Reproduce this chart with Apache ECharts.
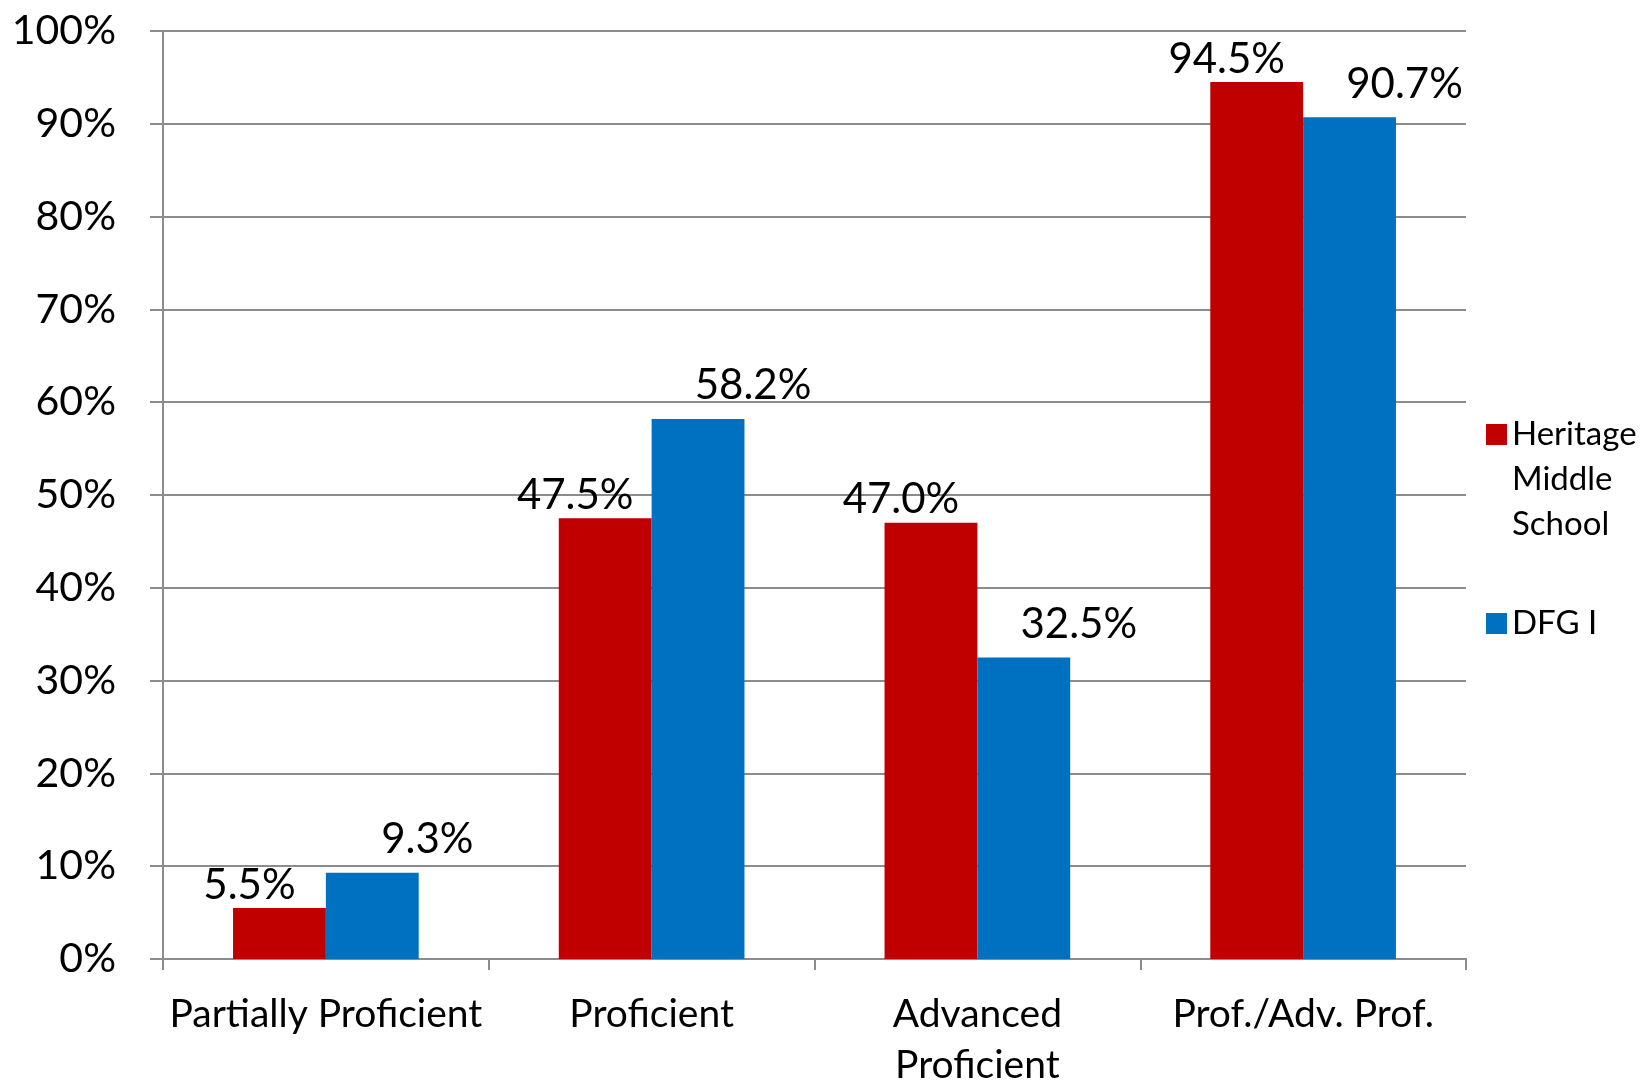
<!DOCTYPE html>
<html>
<head>
<meta charset="utf-8">
<script src="https://cdn.jsdelivr.net/npm/echarts@6/dist/echarts.min.js"></script>
<style>
  html, body { margin: 0; padding: 0; background: #fff; }
  #chart { width: 1650px; height: 1083px; }
</style>
</head>
<body>
<div id="chart"></div>
<script>
const categories = ['Partially Proficient', 'Proficient', 'Advanced Proficient', 'Prof./Adv. Prof.']
const heritage = [5.5, 47.5, 47.0, 94.5]
const dfg = [9.3, 58.2, 32.5, 90.7]
const seriesNames = ['Heritage Middle School', 'DFG I']

const font = 'Lato, "Open Sans", sans-serif'
const gridColor = '#8c8c8c'

const chart = echarts.init(document.getElementById('chart'))

// legend text sits to the right of the square, first line level with it
const legendText = { fontFamily: font, fontSize: 33, color: '#000', lineHeight: 45 }

const option = {
  backgroundColor: '#fff',
  textStyle: { fontFamily: font },
  grid: { left: 163, right: 184, top: 31, bottom: 124, outerBoundsMode: 'none' },
  legend: [
    {
      data: [seriesNames[0]],
      orient: 'vertical',
      left: 1486,
      top: 322,
      padding: 0,
      icon: 'rect',
      itemWidth: 21,
      itemHeight: 21,
      // two empty lines on top so that the first word is centred on the square
      formatter: name => '\n\n' + name.split(' ').join('\n'),
      textStyle: legendText
    },
    {
      data: [seriesNames[1]],
      orient: 'vertical',
      left: 1486,
      top: 601,
      padding: 0,
      icon: 'rect',
      itemWidth: 21,
      itemHeight: 21,
      textStyle: legendText
    }
  ],
  xAxis: {
    type: 'category',
    data: categories,
    axisLine: { lineStyle: { color: gridColor, width: 2 } },
    axisTick: { show: true, length: 11, lineStyle: { color: gridColor, width: 2 } },
    axisLabel: {
      color: '#000',
      fontSize: 39,
      margin: 30,
      lineHeight: 51,
      interval: 0,
      formatter: v => v === 'Advanced Proficient' ? 'Advanced\nProficient' : v
    }
  },
  yAxis: {
    type: 'value',
    min: 0,
    max: 100,
    interval: 10,
    axisLine: { show: true, lineStyle: { color: gridColor, width: 2 } },
    axisTick: { show: true, length: 13, lineStyle: { color: gridColor, width: 2 } },
    splitLine: { lineStyle: { color: gridColor, width: 2 } },
    axisLabel: { color: '#000', fontSize: 41, margin: 47, formatter: '{value}%' }
  },
  series: [
    {
      name: seriesNames[0],
      type: 'bar',
      data: heritage,
      barGap: '0%',
      barCategoryGap: '43%',
      itemStyle: { color: '#C00000' },
      label: {
        show: true,
        position: 'top',
        distance: 2,
        offset: [-30, 0],
        color: '#000',
        fontSize: 42,
        fontFamily: font,
        formatter: p => p.value.toFixed(1) + '%'
      }
    },
    {
      name: seriesNames[1],
      type: 'bar',
      data: dfg,
      barGap: '0%',
      barCategoryGap: '43%',
      itemStyle: { color: '#0070C0' },
      label: {
        show: true,
        position: 'top',
        distance: 12,
        offset: [55, 0],
        color: '#000',
        fontSize: 42,
        fontFamily: font,
        formatter: p => p.value.toFixed(1) + '%'
      }
    }
  ]
}

chart.setOption(option)
</script>
</body>
</html>
